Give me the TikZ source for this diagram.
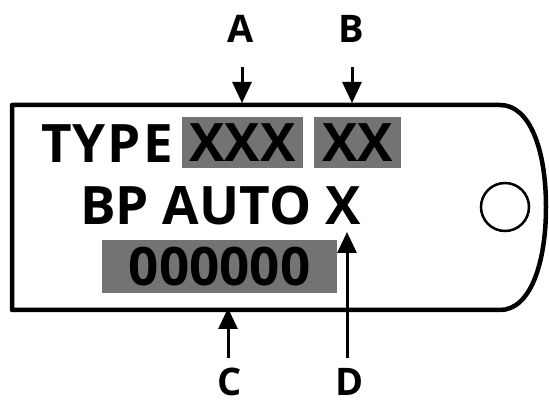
\documentclass[tikz,border=0pt]{standalone}
\usepackage{fontspec}
\setmainfont{Open Sans}
\usetikzlibrary{arrows.meta}
\begin{document}
\begin{tikzpicture}[x=1pt,y=-1pt,
  outline/.style={line width=4.5pt, line join=round},
  bigtext/.style={font=\fontsize{53}{53}\selectfont\bfseries, inner sep=0pt, anchor=base west},
  shadebox/.style={fill=black!55, inner sep=0pt, font=\fontsize{53}{53}\selectfont\bfseries},
  lbl/.style={font=\fontsize{38}{38}\selectfont\bfseries, inner sep=0pt},
  arr/.style={line width=3pt, -{Triangle[width=19pt,length=21pt]}},
  lead/.style={line width=3pt}]
\useasboundingbox (0,0) rectangle (549,403);
% tag outline
\draw[outline] (500,105) -- (12,105) -- (12,310) -- (500,310)
  .. controls (530,310) and (546,264) .. (546,207)
  .. controls (546,150) and (530,105) .. (500,105) -- cycle;
% hole
\node[draw, circle, line width=2.5pt, minimum size=48pt, inner sep=0pt] (hole) at (505,207) {};
% texts
\node[bigtext] (type) at (41,163) {T\kern1ptY\kern2ptP\kern2ptE};
\node[shadebox, minimum width=121pt, minimum height=51pt] (xxx) at (242.5,142.5) {XXX};
\node[shadebox, minimum width=87pt, minimum height=51pt] (xx) at (357.5,142.5) {XX};
\node[bigtext] (bp) at (80,225) {BP AUTO X};
\node[shadebox, minimum width=235pt, minimum height=53pt] (num) at (219.5,266.5) {000000};
% labels
\node[lbl] (A) at (241,28.5) {A};
\node[lbl] (B) at (351,28.5) {B};
\node[lbl] (C) at (230,382) {C};
\node[lbl] (D) at (350,382) {D};
% arrow points
\coordinate (a0) at (242,67); \coordinate (a1) at (242,103);
\coordinate (b0) at (352,67); \coordinate (b1) at (352,103);
\coordinate (c0) at (228,358); \coordinate (c1) at (228,308);
\coordinate (d0) at (347,358); \coordinate (d1) at (347,232);
\draw[arr] (a0) -- (a1);
\draw[arr] (b0) -- (b1);
\draw[arr] (c0) -- (c1);
\draw[arr] (d0) -- (d1);
\end{tikzpicture}
\end{document}
